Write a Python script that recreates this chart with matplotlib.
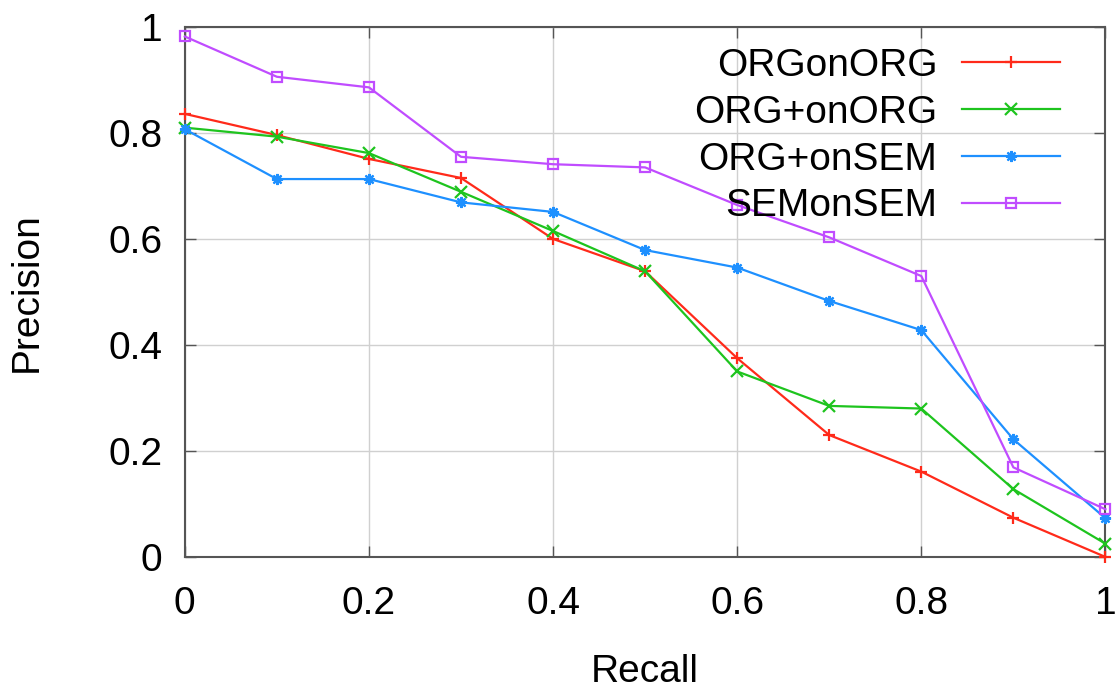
import matplotlib
matplotlib.use("Agg")
import matplotlib.pyplot as plt

recall = [0.0, 0.1, 0.2, 0.3, 0.4, 0.5, 0.6, 0.7, 0.8, 0.9, 1.0]
org_on_org = [0.836, 0.796, 0.751, 0.715, 0.600, 0.539, 0.375, 0.230, 0.161, 0.074, 0.0]
orgp_on_org = [0.810, 0.793, 0.762, 0.689, 0.615, 0.539, 0.350, 0.285, 0.280, 0.128, 0.025]
orgp_on_sem = [0.807, 0.713, 0.713, 0.669, 0.651, 0.579, 0.546, 0.483, 0.428, 0.222, 0.073]
sem_on_sem = [0.982, 0.906, 0.886, 0.755, 0.741, 0.735, 0.664, 0.603, 0.530, 0.169, 0.090]
labels = ["ORGonORG", "ORG+onORG", "ORG+onSEM", "SEMonSEM"]
ticks = [0, 0.2, 0.4, 0.6, 0.8, 1.0]
tick_labels = ["0", "0.2", "0.4", "0.6", "0.8", "1"]

plt.rcParams['font.family'] = ['Liberation Sans', 'DejaVu Sans']
FS = 28

fig = plt.figure(figsize=(11.2, 6.91), dpi=100)
ax = fig.add_axes([0.165, 0.194, 0.822, 0.767])

series = [org_on_org, orgp_on_org, orgp_on_sem, sem_on_sem]
colors = ['#ff2a1a', '#1ec41e', '#1e90ff', '#c04cff']
markers = ['+', 'x', (8, 2, 0), 's']
for ys, lab, c, m in zip(series, labels, colors, markers):
    kw = dict(color=c, lw=1.6, marker=m, markersize=8, label=lab,
              markeredgewidth=1.6, clip_on=False, zorder=3)
    if m == 's':
        kw.update(markerfacecolor='none', markersize=7.5)
    ax.plot(recall, ys, **kw)

ax.set_xlim(0, 1)
ax.set_ylim(0, 1)
ax.set_xticks(ticks)
ax.set_xticklabels(tick_labels)
ax.set_yticks(ticks)
ax.set_yticklabels(tick_labels)
ax.grid(True, color='#d0d0d0', lw=1.0)
ax.set_axisbelow(True)
ax.tick_params(direction='in', length=8, width=1, top=True, right=True,
               labelsize=FS, colors='#555555', labelcolor='black')
ax.tick_params(axis='x', pad=21)
ax.tick_params(axis='y', pad=16)
for s in ax.spines.values():
    s.set_color('#555555')
    s.set_linewidth(1.5)

ax.set_xlabel("Recall", fontsize=FS, labelpad=23)
ax.set_ylabel("Precision", fontsize=FS, labelpad=46)

leg = ax.legend(loc='upper right', frameon=False, markerfirst=False, fontsize=FS,
                handlelength=2.5, handletextpad=0.64, labelspacing=0.28,
                borderaxespad=0, borderpad=0.4, bbox_to_anchor=(0.967, 0.99))

fig.savefig("out.png", dpi=100)
